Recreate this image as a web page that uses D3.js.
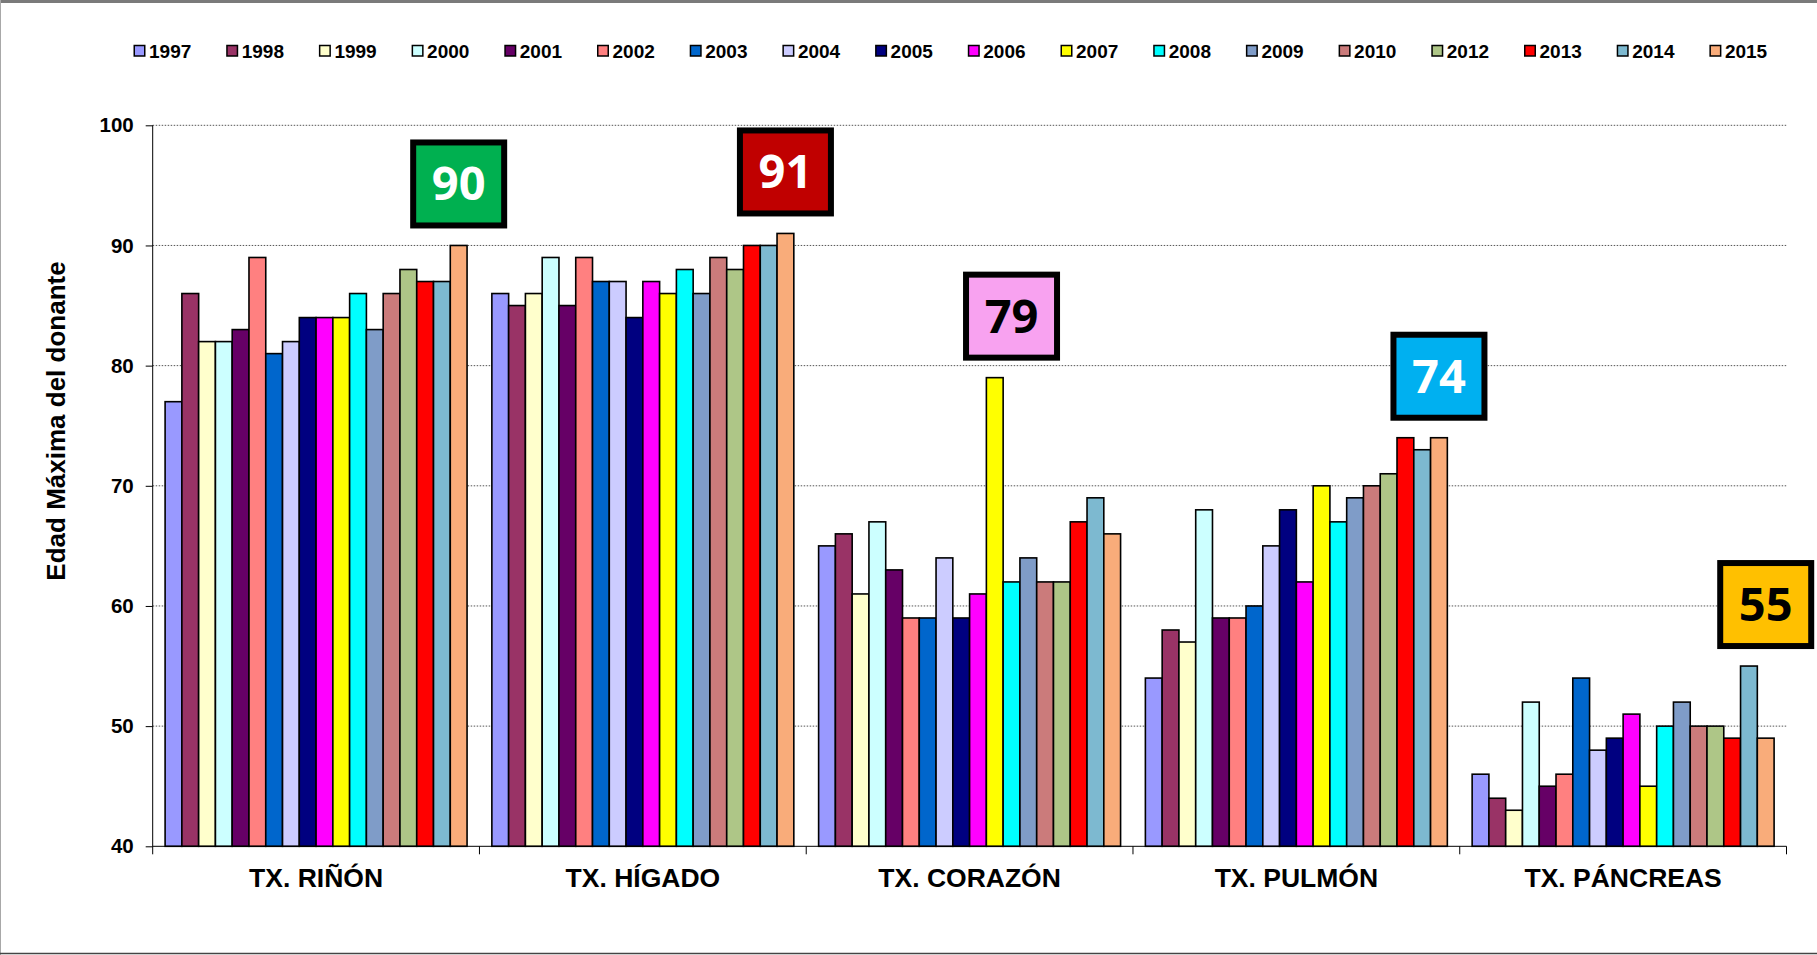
<!DOCTYPE html>
<html>
<head>
<meta charset="utf-8">
<script src="https://cdn.jsdelivr.net/npm/d3@7"></script>
<style>
    body { margin: 0; background: #fff; }
    svg { display: block; }
    .lbl { font-family: "Liberation Sans", Arial, sans-serif; font-weight: bold; fill: #000; }
</style>
</head>
<body>
<div id="chart"></div>
<script>
const CTX = {
    SVG_W: 1817,
    SVG_H: 955,
    LEFT: 152.7,
    RIGHT: 1786.5,
    TOP: 125.3,
    BOTTOM: 846.3
};

// data
const categories = ["TX. RIÑÓN", "TX. HÍGADO", "TX. CORAZÓN", "TX. PULMÓN", "TX. PÁNCREAS"];
const years = ["1997", "1998", "1999", "2000", "2001", "2002", "2003", "2004", "2005",
    "2006", "2007", "2008", "2009", "2010", "2012", "2013", "2014", "2015"];
const yearColors = ["#9999FF", "#993366", "#FFFFCC", "#CCFFFF", "#660066", "#FF8080", "#0066CC", "#CCCCFF", "#000080",
    "#FF00FF", "#FFFF00", "#00FFFF", "#7F9CC8", "#CB7B7B", "#AEC687", "#FF0000", "#7DB9D0", "#F9AC7A"];

const valuesRinon = [77, 86, 82, 82, 83, 89, 81, 82, 84, 84, 84, 86, 83, 86, 88, 87, 87, 90];
const valuesHigado = [86, 85, 86, 89, 85, 89, 87, 87, 84, 87, 86, 88, 86, 89, 88, 90, 90, 91];
const valuesCorazon = [65, 66, 61, 67, 63, 59, 59, 64, 59, 61, 79, 62, 64, 62, 62, 67, 69, 66];
const valuesPulmon = [54, 58, 57, 68, 59, 59, 60, 65, 68, 62, 70, 67, 69, 70, 71, 74, 73, 74];
const valuesPancreas = [46, 44, 43, 52, 45, 46, 54, 48, 49, 51, 45, 50, 52, 50, 50, 49, 55, 49];

const yTicks = [40, 50, 60, 70, 80, 90, 100];
const yTitle = "Edad Máxima del donante";

// highlighted maximum per organ
const annotCats = ["TX. RIÑÓN", "TX. HÍGADO", "TX. CORAZÓN", "TX. PULMÓN", "TX. PÁNCREAS"];
const annotYears = ["2015", "2015", "2008", "2015", "2015"];
const annotValues = [90, 91, 79, 74, 55];
const annotFills = ["#00B050", "#C00000", "#F8A2F0", "#00B0F0", "#FFC000"];
const annotInks = ["#FFFFFF", "#FFFFFF", "#000000", "#FFFFFF", "#000000"];

function buildTable() {
    let series = [valuesRinon, valuesHigado, valuesCorazon, valuesPulmon, valuesPancreas];
    let rows = [];
    categories.forEach(function (c, ci) {
        years.forEach(function (y, yi) {
            rows.push({cat: c, year: y, value: series[ci][yi], color: yearColors[yi]});
        });
    });
    return rows;
}

function drawFrame(svg) {
    svg.append("rect").attr("x", 0).attr("y", 0).attr("width", CTX.SVG_W).attr("height", CTX.SVG_H)
        .attr("fill", "#fff");
    svg.append("rect").attr("x", 0).attr("y", 0).attr("width", CTX.SVG_W).attr("height", 3)
        .attr("fill", "#7a7a7a");
    svg.append("line").attr("x1", 0.5).attr("x2", 0.5).attr("y1", 0).attr("y2", CTX.SVG_H)
        .attr("stroke", "#a8a8a8").attr("stroke-width", 1);
    svg.append("line").attr("x1", 0).attr("x2", CTX.SVG_W).attr("y1", 953.5).attr("y2", 953.5)
        .attr("stroke", "#444").attr("stroke-width", 1.5);
}

function drawLegend(svg) {
    let g = svg.append("g").attr("id", "legend");
    let item = g.selectAll("g.item")
        .data(years)
        .enter()
        .append("g")
        .attr("class", "item")
        .attr("transform", (d, i) => `translate(${133.5 + i * 92.7},0)`);
    item.append("rect")
        .attr("x", 0.75).attr("y", 45.5)
        .attr("width", 10.5).attr("height", 10.5)
        .attr("fill", (d, i) => yearColors[i])
        .attr("stroke", "#000")
        .attr("stroke-width", 1.5);
    item.append("text")
        .attr("class", "lbl")
        .attr("x", 15.5)
        .attr("y", 57.5)
        .style("font-size", "19px")
        .text(d => d);
}

function drawChart() {
    let svg = d3.select("#chart").append("svg")
        .attr("width", CTX.SVG_W)
        .attr("height", CTX.SVG_H);
    drawFrame(svg);
    drawLegend(svg);

    let rows = buildTable();
    let y = d3.scaleLinear().domain([40, 100]).range([CTX.BOTTOM, CTX.TOP]);
    let x0 = d3.scaleBand().domain(categories).range([CTX.LEFT, CTX.RIGHT]).padding(0);
    let x1 = d3.scaleBand().domain(years).range([12.4, x0.bandwidth() - 12.4]).padding(0);

    // dotted gridlines
    svg.append("g").attr("id", "grid")
        .selectAll("line")
        .data(yTicks.filter(t => t > 40))
        .enter()
        .append("line")
        .attr("x1", CTX.LEFT).attr("x2", CTX.RIGHT)
        .attr("y1", d => y(d)).attr("y2", d => y(d))
        .attr("stroke", "#555")
        .attr("stroke-width", 1)
        .attr("stroke-dasharray", "1.5,1.5");

    // bars
    svg.append("g").attr("id", "bars")
        .selectAll("rect")
        .data(rows)
        .enter()
        .append("rect")
        .attr("x", d => x0(d.cat) + x1(d.year))
        .attr("y", d => y(d.value))
        .attr("width", x1.bandwidth())
        .attr("height", d => y(40) - y(d.value))
        .attr("fill", d => d.color)
        .attr("stroke", "#000")
        .attr("stroke-width", 1.6);

    // y axis
    let yAxis = svg.append("g")
        .attr("transform", `translate(${CTX.LEFT},0)`)
        .call(d3.axisLeft(y).tickValues(yTicks).tickSize(7).tickPadding(12).tickFormat(d3.format("d")));
    yAxis.select(".domain").remove();
    yAxis.selectAll(".tick line").attr("stroke", "#000");
    yAxis.selectAll("text")
        .attr("class", "lbl")
        .attr("fill", "#000")
        .style("font-size", "20.5px");
    svg.append("line")
        .attr("x1", CTX.LEFT).attr("x2", CTX.LEFT)
        .attr("y1", CTX.TOP).attr("y2", CTX.BOTTOM + 8)
        .attr("stroke", "#000").attr("stroke-width", 1);

    // x axis
    let xAxis = svg.append("g")
        .attr("transform", `translate(0,${CTX.BOTTOM})`)
        .call(d3.axisBottom(x0).tickSize(0).tickPadding(22));
    xAxis.select(".domain").attr("stroke", "#000").attr("d", `M${CTX.LEFT},0H${CTX.RIGHT}`);
    xAxis.selectAll("text")
        .attr("class", "lbl")
        .attr("fill", "#000")
        .style("font-size", "26.5px");
    svg.append("g").attr("id", "cat-ticks")
        .selectAll("line")
        .data(categories)
        .enter()
        .append("line")
        .attr("x1", d => x0(d) + x0.bandwidth()).attr("x2", d => x0(d) + x0.bandwidth())
        .attr("y1", CTX.BOTTOM).attr("y2", CTX.BOTTOM + 8)
        .attr("stroke", "#000").attr("stroke-width", 1);

    // y title
    svg.append("text")
        .attr("class", "lbl")
        .attr("transform", "translate(65,421) rotate(-90)")
        .attr("text-anchor", "middle")
        .style("font-size", "26px")
        .text(yTitle);

    // highlighted boxes
    let boxW = 91, boxH = 83;
    let ann = svg.append("g").attr("id", "annotations")
        .selectAll("g")
        .data(annotValues)
        .enter()
        .append("g")
        .attr("transform", function (d, i) {
            let cx = x0(annotCats[i]) + x1(annotYears[i]) + x1.bandwidth() / 2;
            let bottom = y(d) - 20;
            return `translate(${cx},${bottom - boxH / 2})`;
        });
    ann.append("rect")
        .attr("x", -boxW / 2).attr("y", -boxH / 2)
        .attr("width", boxW).attr("height", boxH)
        .attr("fill", (d, i) => annotFills[i])
        .attr("stroke", "#000")
        .attr("stroke-width", 6);
    ann.append("text")
        .attr("text-anchor", "middle")
        .attr("y", 16.5)
        .style("font-family", "'Open Sans', sans-serif")
        .style("font-weight", "bold")
        .style("font-size", "47px")
        .attr("fill", (d, i) => annotInks[i])
        .text(d => d);
}

drawChart();
</script>
</body>
</html>
